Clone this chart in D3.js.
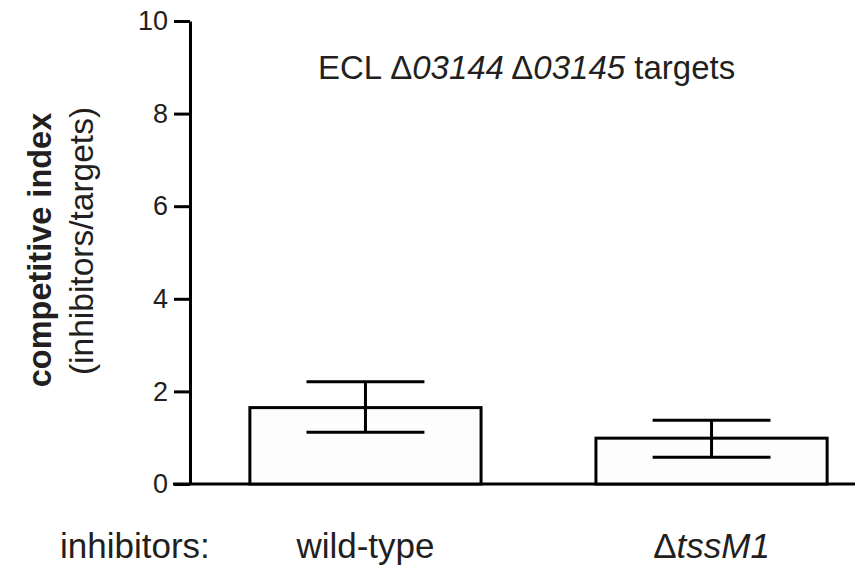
<!DOCTYPE html>
<meta charset="utf-8">
<title>competitive index</title>
<style>
  body { margin: 0; background: #fff; }
  text { font-family: "Liberation Sans", Arial, sans-serif; fill: #231f20; }
  .tick text { font-size: 27px; }
  .tick line, .domain { stroke: #000; stroke-width: 3px; }
</style>
<body>
<script src="https://d3js.org/d3.v7.min.js"></script>
<script>

// values
var groups = ["wild-type", "tssM1"];
var means = [1.65, 0.99];
var errLow = [1.12, 0.58];
var errHigh = [2.21, 1.375];
var yTicks = [0, 2, 4, 6, 8, 10];

var width = 855,
  height = 567;

var svg = d3.select("body").append("svg")
    .attr("width", width)
    .attr("height", height);

var y = d3.scaleLinear().domain([0, 10]).range([484, 21]);
var x = d3.scaleBand().domain(groups).range([190, 887])
    .paddingInner(0.332).paddingOuter(0.173);

// baseline running right across the figure
svg.append("line")
    .attr("x1", 173).attr("x2", width)
    .attr("y1", y(0)).attr("y2", y(0))
    .style("stroke", "#000").style("stroke-width", 3);

var yAxis = svg.append("g")
    .attr("transform", "translate(190,0)")
    .call(d3.axisLeft(y).tickValues(yTicks).tickSize(16).tickSizeOuter(0).tickPadding(6));
yAxis.selectAll(".tick text").style("fill", "#231f20");

// bars
var data = groups.map((g, i) => ({ g: g, m: means[i], lo: errLow[i], hi: errHigh[i] }));

svg.selectAll("rect.bar")
    .data(data)
  .enter().append("rect")
    .attr("class", "bar")
    .attr("x", d => x(d.g))
    .attr("width", x.bandwidth())
    .attr("y", d => y(d.m))
    .attr("height", d => y(0) - y(d.m))
    .style("fill", "#fdfdfd")
    .style("stroke", "#000")
    .style("stroke-width", 3);

// error bars
var capW = x.bandwidth() * 0.51;
var err = svg.selectAll("g.err")
    .data(data)
  .enter().append("g")
    .attr("class", "err")
    .style("stroke", "#000")
    .style("stroke-width", 3);

err.append("line")
    .attr("x1", d => x(d.g) + x.bandwidth() / 2)
    .attr("x2", d => x(d.g) + x.bandwidth() / 2)
    .attr("y1", d => y(d.lo))
    .attr("y2", d => y(d.hi));
err.append("line")
    .attr("x1", d => x(d.g) + x.bandwidth() / 2 - capW / 2)
    .attr("x2", d => x(d.g) + x.bandwidth() / 2 + capW / 2)
    .attr("y1", d => y(d.hi)).attr("y2", d => y(d.hi));
err.append("line")
    .attr("x1", d => x(d.g) + x.bandwidth() / 2 - capW / 2)
    .attr("x2", d => x(d.g) + x.bandwidth() / 2 + capW / 2)
    .attr("y1", d => y(d.lo)).attr("y2", d => y(d.lo));

// title inside the plot
var title = svg.append("text")
    .attr("x", 318).attr("y", 79)
    .style("font-size", "33px");
title.append("tspan").text("ECL \u0394");
title.append("tspan").style("font-style", "italic").text("03144");
title.append("tspan").text(" \u0394");
title.append("tspan").style("font-style", "italic").text("03145");
title.append("tspan").text(" targets");

// y axis label, two lines
svg.append("text")
    .attr("transform", "translate(51,250) rotate(-90)")
    .attr("text-anchor", "middle")
    .style("font-size", "32.5px")
    .style("font-weight", "bold")
    .text("competitive index");
svg.append("text")
    .attr("transform", "translate(93,241) rotate(-90)")
    .attr("text-anchor", "middle")
    .style("font-size", "33.5px")
    .text("(inhibitors/targets)");

// category labels under the bars
svg.append("text")
    .attr("x", 60).attr("y", 558)
    .style("font-size", "35px")
    .text("inhibitors:");

var labels = svg.selectAll("text.cat")
    .data(groups)
  .enter().append("text")
    .attr("class", "cat")
    .attr("x", d => x(d) + x.bandwidth() / 2)
    .attr("y", 558)
    .attr("text-anchor", "middle")
    .style("font-size", "35px");
labels.filter((d, i) => i == 0).text(d => d);
labels.filter((d, i) => i == 1).each(function(d) {
  var t = d3.select(this);
  t.append("tspan").text("\u0394");
  t.append("tspan").style("font-style", "italic").text(d);
});

</script>
</body>
